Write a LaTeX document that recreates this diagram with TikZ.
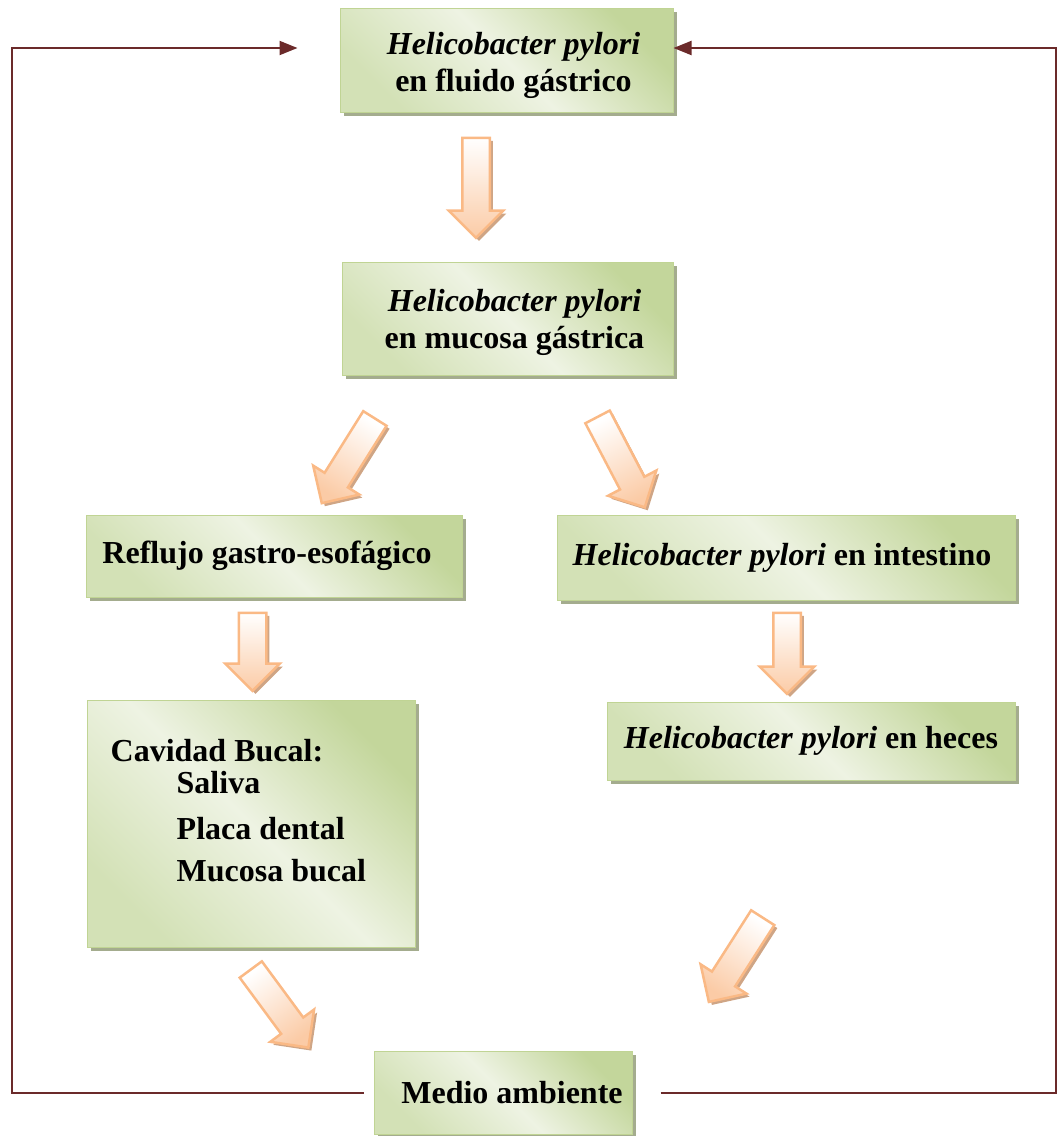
\documentclass[tikz,border=0pt]{standalone}
\usepackage{fontspec}
\setmainfont{Liberation Serif}
\usepackage{xcolor}
\usepackage{tikz}
\usetikzlibrary{positioning,arrows.meta,shapes.arrows,shadows}

\definecolor{gDark}{HTML}{C3D69B}
\definecolor{gMid}{HTML}{D3E1B6}
\definecolor{gLight}{HTML}{EEF3E3}
\definecolor{gLine}{HTML}{C0D494}
\definecolor{gShadow}{HTML}{A4AC8E}
\definecolor{linkred}{HTML}{6B2A2A}
\definecolor{arrOr}{HTML}{FBCBA6}
\definecolor{arrLine}{HTML}{FAB985}
\definecolor{arrShadow}{HTML}{CFA585}

\tikzset{
  stage/.style={draw=gLine, line width=1pt,
    top color=gDark, bottom color=gMid, middle color=gLight, shading angle=-45,
    drop shadow={shadow xshift=4pt, shadow yshift=-4pt, fill=gShadow, opacity=1},
    font=\bfseries\fontsize{32}{37}\selectfont, align=center, inner sep=0pt},
  flow/.style={single arrow, draw=arrLine, line width=2.5pt,
    top color=white, bottom color=arrOr,
    single arrow head extend=13.5pt, single arrow tip angle=90,
    inner xsep=0pt, inner ysep=12.5pt, minimum width=0pt,
    drop shadow={shadow xshift=3pt, shadow yshift=-3pt, fill=arrShadow, opacity=1}},
  link/.style={draw=linkred, line width=2pt, -{Triangle[length=18pt,width=14pt]}},
}

\begin{document}
\begin{tikzpicture}[x=1pt, y=-1pt]
\useasboundingbox (0,0) rectangle (1058,1136);

% boxes
\node[stage, minimum width=333pt, minimum height=104pt] (fluido) at (506.5,60)
  {\hspace*{14pt}\rule{0pt}{33pt}\textit{Helicobacter pylori}\\\hspace*{14pt}en fluido gástrico};
\node[stage, minimum width=331pt, minimum height=113pt] (mucosa) at (507.5,318.5)
  {\hspace*{14pt}\rule{0pt}{30pt}\textit{Helicobacter pylori}\\\hspace*{14pt}en mucosa gástrica};
\node[stage, minimum width=376pt, minimum height=82pt] (reflujo) at (274,556) {\hspace*{-14pt}Reflujo gastro-esofágico};
\node[stage, minimum width=458pt, minimum height=85pt] (intestino) at (786,557.5) {\hspace*{-8pt}\textit{Helicobacter pylori} en intestino};
\node[stage, minimum width=328pt, minimum height=247pt] (cavidad) at (251,823.5) {};
\node[font=\bfseries\fontsize{32}{37}\selectfont, align=left, inner sep=0pt, anchor=north west] (cavlist)
  at ([xshift=24pt,yshift=-40pt]cavidad.north west)
  {Cavidad Bucal:\\[-5pt]\hspace*{66pt}Saliva\\[9pt]\hspace*{66pt}Placa dental\\[5pt]\hspace*{66pt}Mucosa bucal};
\node[stage, minimum width=408pt, minimum height=78pt] (heces) at (811,741) {\textit{Helicobacter pylori} en heces};
\node[stage, minimum width=258pt, minimum height=83pt] (medio) at (503,1092.5) {\hspace*{18pt}Medio ambiente};

% block arrows
\node[flow, minimum height=100pt, rotate=-90, shading angle=0] (a1) at (476,181) {};
\node[flow, minimum height=100pt, rotate=-122.1, shading angle=-32.1] (a2) at (352,455) {};
\node[flow, minimum height=102pt, rotate=-62.4, shading angle=27.6] (a3) at (618,456) {};
\node[flow, minimum height=78pt, rotate=-90, shading angle=0] (a4) at (252.5,645) {};
\node[flow, minimum height=81pt, rotate=-90, shading angle=0] (a5) at (787,646.5) {};
\node[flow, minimum height=97pt, rotate=-53.6, shading angle=36.4] (a6) at (275.5,1003) {};
\node[flow, minimum height=100pt, rotate=-122.6, shading angle=-32.6] (a7) at (739.5,954) {};

% return lines
\coordinate (cl) at (12,48);
\coordinate (cr) at (1056,48);
\draw[link, shorten <=10pt, shorten >=42pt] (medio.west) -| (cl) -- ([yshift=12pt]fluido.west);
\draw[link, shorten <=28pt] (medio.east) -| (cr) -- ([yshift=12pt]fluido.east);

\end{tikzpicture}
\end{document}
